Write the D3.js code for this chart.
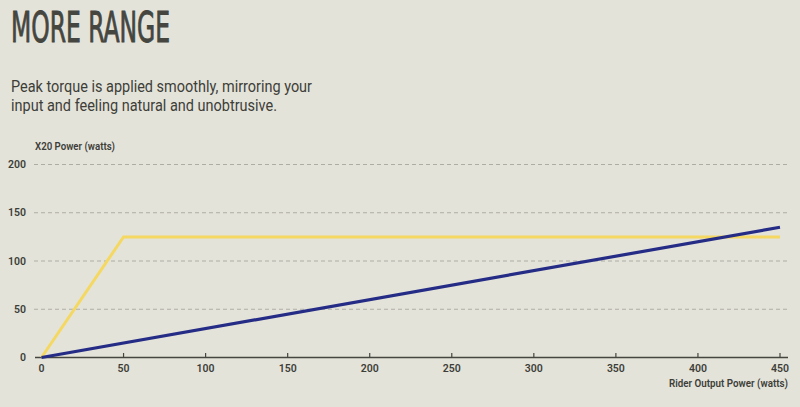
<!DOCTYPE html>
<html><head><meta charset="utf-8">
<script src="https://cdn.jsdelivr.net/npm/d3@7"></script>
<style>
html,body{margin:0;padding:0;background:#e4e3da;}
svg{display:block;}
</style></head>
<body>
<svg id="chart" width="800" height="407"></svg>
<script>
const xTicks = [0, 50, 100, 150, 200, 250, 300, 350, 400, 450];
const yTicks = [0, 50, 100, 150, 200];
const riderPower = [0, 50, 450];
const x20Assist = [0, 125, 125];
const linearPower = [0, 450];
const linearValues = [0, 135];

const svg = d3.select("#chart");
const W = 800, H = 407;
const FONT = "Roboto, 'Liberation Sans', sans-serif";
const TXT = "#3d3e38";
svg.append("rect").attr("width", W).attr("height", H).attr("fill", "#e4e3da");

const x = d3.scaleLinear().domain([0, 450]).range([41.5, 780]);
const y = d3.scaleLinear().domain([0, 200]).range([357.5, 164.5]);

// title
svg.append("text").attr("x", 11).attr("y", 41.5)
  .attr("font-family", "'DejaVu Sans Condensed', 'Liberation Sans Narrow', sans-serif")
  .attr("font-size", 43).attr("fill", "#45463f")
  .attr("stroke", "#45463f").attr("stroke-width", 0.9)
  .attr("textLength", 159).attr("lengthAdjust", "spacingAndGlyphs")
  .text("MORE RANGE");

const sub = svg.append("g").attr("font-family", FONT)
  .attr("font-size", 16).attr("fill", TXT);
sub.append("text").attr("x", 11).attr("y", 91.5)
  .attr("textLength", 301).attr("lengthAdjust", "spacingAndGlyphs")
  .text("Peak torque is applied smoothly, mirroring your");
sub.append("text").attr("x", 11).attr("y", 110.5)
  .attr("textLength", 266).attr("lengthAdjust", "spacingAndGlyphs")
  .text("input and feeling natural and unobtrusive.");

// grid
const g = svg.append("g");
g.selectAll("line.grid").data(yTicks.filter(d => d > 0)).join("line")
  .attr("x1", 34).attr("x2", 790)
  .attr("y1", d => y(d)).attr("y2", d => y(d))
  .attr("stroke", "#aeada5").attr("stroke-width", 1).attr("stroke-dasharray", "4,3");

// y labels
g.selectAll("text.ylab").data(yTicks).join("text")
  .attr("x", 26).attr("y", d => y(d)).attr("dy", "0.35em")
  .attr("text-anchor", "end").attr("font-family", FONT)
  .attr("font-size", 10.5).attr("font-weight", 600).attr("fill", TXT)
  .text(d => d);

// x axis line
g.append("line").attr("x1", 35).attr("x2", 788).attr("y1", y(0)).attr("y2", y(0))
  .attr("stroke", "#45463f").attr("stroke-width", 1.3);
g.selectAll("line.xt").data(xTicks.filter(d => d > 0)).join("line")
  .attr("x1", d => x(d)).attr("x2", d => x(d))
  .attr("y1", y(0)).attr("y2", y(0) - 4.5)
  .attr("stroke", "#45463f").attr("stroke-width", 1.2);
g.selectAll("text.xlab").data(xTicks).join("text")
  .attr("x", d => x(d)).attr("y", 368).attr("dy", "0.35em")
  .attr("text-anchor", "middle").attr("font-family", FONT)
  .attr("font-size", 10.5).attr("font-weight", 600).attr("fill", TXT)
  .text(d => d);

svg.append("text").attr("x", 35).attr("y", 146).attr("dy", "0.35em")
  .attr("font-family", FONT)
  .attr("font-size", 10).attr("font-weight", 600).attr("fill", TXT)
  .attr("textLength", 80).attr("lengthAdjust", "spacingAndGlyphs")
  .text("X20 Power (watts)");
svg.append("text").attr("x", 669).attr("y", 383.5).attr("dy", "0.35em")
  .attr("font-family", FONT)
  .attr("font-size", 10).attr("font-weight", 600).attr("fill", TXT)
  .attr("textLength", 119).attr("lengthAdjust", "spacingAndGlyphs")
  .text("Rider Output Power (watts)");

const line = d3.line().x(d => x(d[0])).y(d => y(d[1]));
svg.append("path").datum(riderPower.map((v, i) => [v, x20Assist[i]]))
  .attr("d", line).attr("fill", "none").attr("stroke", "#f4d862").attr("stroke-width", 3);
svg.append("path").datum(linearPower.map((v, i) => [v, linearValues[i]]))
  .attr("d", line).attr("fill", "none").attr("stroke", "#252c86").attr("stroke-width", 3.2);
</script>
</body></html>
